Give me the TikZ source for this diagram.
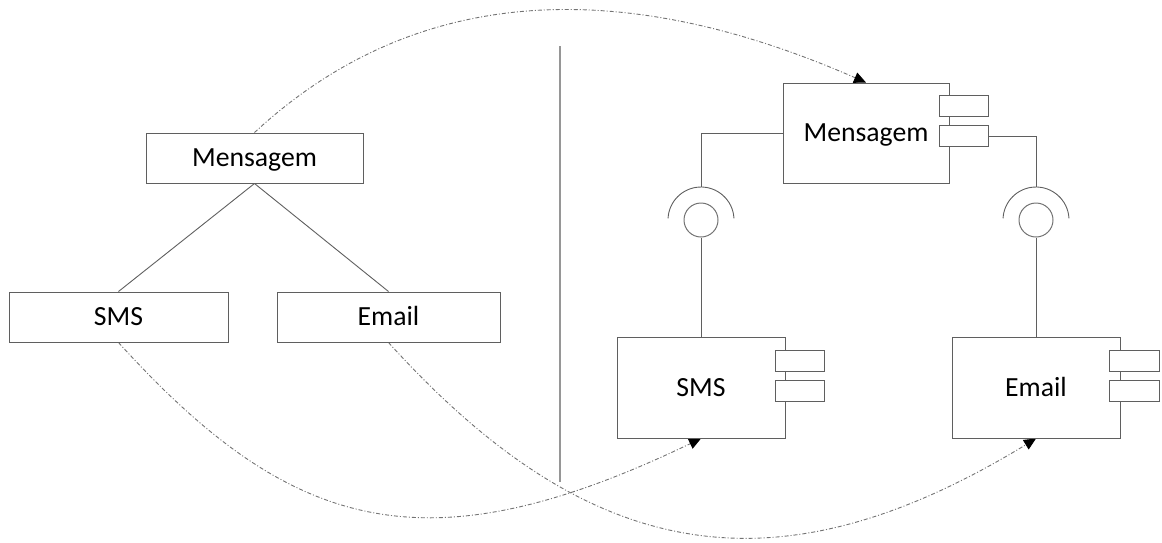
\documentclass[tikz,border=0pt]{standalone}
\usepackage{fontspec}
\setmainfont{Carlito}
\usetikzlibrary{arrows.meta,backgrounds}
\definecolor{edgegray}{RGB}{95,95,95}
\definecolor{linkgray}{RGB}{115,115,115}
\definecolor{rulegray}{RGB}{150,150,150}
\tikzset{
  box/.style={draw=edgegray, line width=1pt, fill=white, inner sep=0pt,
    font=\fontsize{27.7pt}{33pt}\selectfont, text height=17.8pt, text depth=0pt},
  classbox/.style={box, minimum height=50pt},
  compbox/.style={box, minimum width=168pt, minimum height=101pt},
  port/.style={draw=edgegray, line width=1pt, fill=white, inner sep=0pt,
    minimum width=49pt, minimum height=21pt},
  ball/.style={circle, draw=linkgray, line width=1pt, inner sep=0pt, minimum size=34pt},
  wire/.style={draw=edgegray, line width=0.9pt},
  trace/.style={draw=linkgray, line width=0.9pt,
    dash pattern=on 4pt off 2pt on 1pt off 2pt,
    -{Triangle[length=12pt,width=11pt,color=black,fill=black]}},
}
\begin{document}
\begin{tikzpicture}[x=1pt,y=-1pt]
\useasboundingbox (0,0) rectangle (1162,542);

% class hierarchy
\node[classbox, minimum width=217pt] (lmsg)   at (254.5,158) {Mensagem};
\node[classbox, minimum width=219pt] (lsms)   at (118.5,317) {SMS};
\node[classbox, minimum width=223pt] (lemail) at (388.5,317) {Email};
\draw[wire] (lmsg.south) -- (lsms.north);
\draw[wire] (lmsg.south) -- (lemail.north);

% separator
\draw[draw=rulegray, line width=1.2pt] (560,46) -- (560,482);

% components
\node[compbox, minimum width=166pt, minimum height=100pt] (rmsg) at (866,133) {Mensagem};
\node[port] (rmsgp1) at (963.5,105.5) {};
\node[port] (rmsgp2) at (963.5,136) {};

\node[compbox] (rsms) at (701,387.5) {SMS};
\node[port] (rsmsp1) at (799.5,361) {};
\node[port] (rsmsp2) at (799.5,391) {};

\node[compbox] (remail) at (1036,387.5) {Email};
\node[port, minimum width=50pt] (remailp1) at (1134,361) {};
\node[port, minimum width=50pt] (remailp2) at (1134,391) {};

% provided interfaces (balls) and required interfaces (sockets)
\node[ball] (ball1) at (701,220) {};
\node[ball] (ball2) at (1036,220) {};
\coordinate (sock1) at (701,187);
\coordinate (sock2) at (1036,187);
\draw[wire] (701,220) ++(-3:33) arc[start angle=-3, end angle=-177, radius=33];
\draw[wire] (1036,220) ++(-3:33) arc[start angle=-3, end angle=-177, radius=33];

\draw[wire] (rmsg.west) -| (sock1);
\draw[wire] (rmsgp2.east) -| (sock2);
\draw[wire] (ball1.south) -- (rsms.north);
\draw[wire] (ball2.south) -- (remail.north);

% mapping from classes to components
\begin{pgfonlayer}{background}
\draw[trace] (lmsg.north) .. controls (416,-17) and (623,-24) .. (rmsg.north);
\draw[trace] (lsms.south) .. controls (292,534) and (427,570) .. (rsms.south);
\draw[trace] (lemail.south) .. controls (589,564) and (776,597) .. (remail.south);
\end{pgfonlayer}
\end{tikzpicture}
\end{document}
